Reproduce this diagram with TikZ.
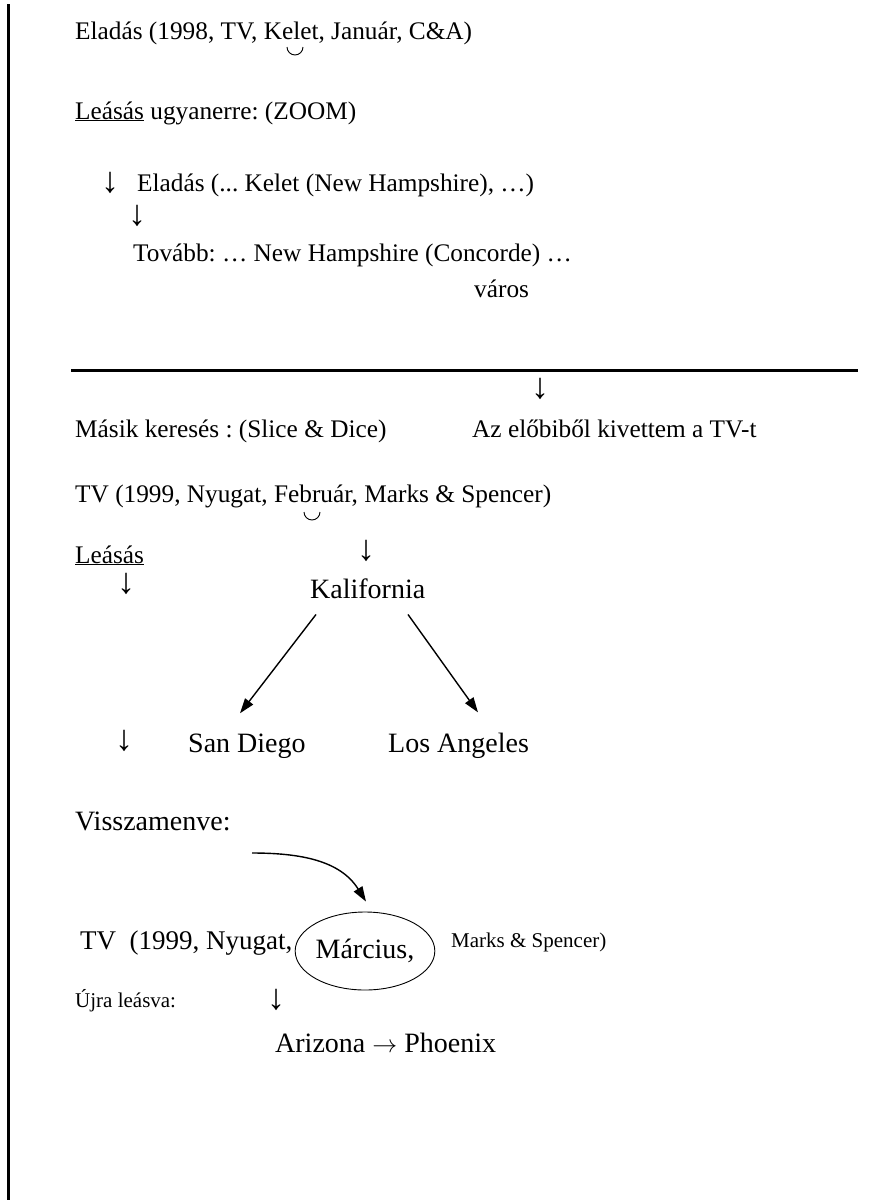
\documentclass[tikz,border=0pt]{standalone}
\usepackage{fontspec}
\setmainfont{Liberation Serif}
\usetikzlibrary{arrows.meta,shapes.geometric,calc}
\frenchspacing
\begin{document}
\begin{tikzpicture}[x=1pt,y=-1pt,
  txt/.style={anchor=base west,inner sep=0pt,font=\fontsize{25.3}{29}\selectfont},
  big/.style={anchor=base west,inner sep=0pt,font=\fontsize{28}{32}\selectfont},
  small/.style={anchor=base west,inner sep=0pt,font=\fontsize{21}{24}\selectfont},
  dn/.style={inner sep=0pt,font=\fontsize{36}{40}\selectfont},
  cupline/.style={line width=0.9pt},
  tri/.style={-{Triangle[length=15pt,width=10pt]},line width=1.4pt}]
\useasboundingbox (0,0) rectangle (869,1200);
% margin rule
\fill (7,4) rectangle (10,1200);

% upper block: drill-down
\node[txt] (l1) at (75,39) {Eladás (1998, TV, Kelet, Január, C\&A)};
\draw[cupline] (287,47) arc[start angle=180,end angle=0,radius=8];
\node[txt] (l2) at (75,119) {\underline{Leásás} ugyanerre: (ZOOM)};
\node[dn] (a1) at (110,183) {↓};
\node[txt] (l3) at (137,191) {Eladás (... Kelet (New Hampshire), …)};
\node[dn] (a2) at (137,216) {↓};
\node[txt] (l4) at (133,261) {Tovább: … New Hampshire (Concorde) …};
\node[txt] (l5) at (474,297) {város};

% separator
\draw[line width=3pt] (71,370) -- (858,370);

% slice & dice block
\node[dn] (a3) at (540,389) {↓};
\node[txt] (l6) at (75,437) {Másik keresés : (Slice \& Dice)};
\node[txt] (l7) at (472,437) {Az előbiből kivettem a TV-t};
\node[txt] (l8) at (75,502) {TV (1999, Nyugat, Február, Marks \& Spencer)};
\draw[cupline] (304,512) arc[start angle=180,end angle=0,radius=8];
\node[txt] (l9) at (75,563) {\underline{Leásás}};
\node[dn] (a4) at (366,551) {↓};
\node[dn] (a5) at (126,584) {↓};
\node[big] (kal) at (310,598) {Kalifornia};
\node[dn] (a6) at (124,741) {↓};
\node[big] (sd) at (188,752) {San Diego};
\node[big] (la) at (388,752) {Los Angeles};
\draw[tri] ($(kal.south west)+(6,16)$) -- ($(sd.north west)+(52,-20)$);
\draw[tri] ($(kal.south west)+(98,16)$) -- ($(la.north west)+(90,-20)$);

% going back
\node[big] (vissza) at (75,830) {Visszamenve:};
\node[big,font=\fontsize{27}{31}\selectfont] (tv2) at (80,949) {TV\ \ (1999, Nyugat,};
\node[draw,ellipse,minimum width=130pt,minimum height=78pt,inner sep=0pt,
      line width=0.9pt,font=\fontsize{28}{32}\selectfont] (marc) at (365,951) {Március,};
\node[small] (ms) at (451,947) {Marks \& Spencer)};
\coordinate (cs) at (252,853);
\draw[tri] (cs) to[out=0,in=122] ($(marc.north)+(1,-10)$);
\node[small] (ujra) at (75,1007) {Újra leásva:};
\node[dn] (a7) at (276,1000) {↓};
\node[big] (ariz) at (275,1052) {Arizona $\rightarrow$ Phoenix};
\end{tikzpicture}
\end{document}
